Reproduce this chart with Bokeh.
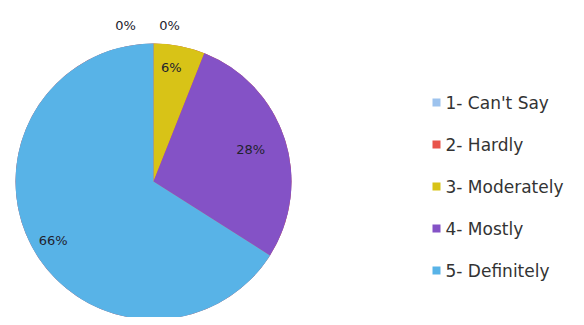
import math
from bokeh.plotting import figure
from bokeh.models import Range1d, ColumnDataSource
from bokeh.core.properties import value
from bokeh.embed import file_html
from bokeh.resources import INLINE

# ---- data ----
categories = ["1- Can't Say", "2- Hardly", "3- Moderately", "4- Mostly", "5- Definitely"]
percents = [0, 0, 6, 28, 66]
slice_colors = ["#9dc3ee", "#e8534a", "#d8c317", "#8452c6", "#58b3e7"]

# ---- style ----
W, H = 576, 317
cx, cy, R = 153, 325 - 181, 138          # pie centre/radius in page pixels (y flipped)
label_r = [1.13, 1.13, 0.84, 0.74, 0.83]
label_dx = [-28, 16, -4, 0, 0]
label_dy = [0, 0, 0, 0, -4]

total = float(sum(percents))
starts, ends, lx, ly, texts = [], [], [], [], []
acc = 0.0
for i, v in enumerate(percents):
    a0 = math.pi / 2 - 2 * math.pi * acc / total
    acc += v
    a1 = math.pi / 2 - 2 * math.pi * acc / total
    starts.append(a0)
    ends.append(a1)
    mid = (a0 + a1) / 2
    lx.append(cx + label_r[i] * R * math.cos(mid) + label_dx[i])
    ly.append(cy + label_r[i] * R * math.sin(mid) + label_dy[i])
    texts.append(f"{v}%")

src = ColumnDataSource(dict(cat=categories, start=starts, end=ends,
                            color=slice_colors, lx=lx, ly=ly, txt=texts))

p = figure(width=W, height=H, output_backend="svg", toolbar_location=None,
           x_range=Range1d(0, W), y_range=Range1d(325 - H, 325),
           min_border=0, outline_line_color=None)
p.axis.visible = False
p.grid.visible = False
p.background_fill_color = "white"

p.wedge(x=cx, y=cy, radius=R, start_angle="start", end_angle="end",
        direction="clock", fill_color="color", line_color=None, source=src)

p.text(x="lx", y="ly", text="txt", source=src, text_align="center",
       text_baseline="middle", text_font=value("DejaVu Sans"),
       text_font_size="13px", text_color="#22222e")

# legend (manual)
leg_x, leg_y0, leg_step = 436, 325 - 102, 42
leg_ys = [leg_y0 - leg_step * i for i in range(len(categories))]
leg_src = ColumnDataSource(dict(x=[leg_x] * len(categories), y=leg_ys,
                                tx=[leg_x + 9] * len(categories),
                                cat=categories, color=slice_colors))
p.scatter(x="x", y="y", marker="square", size=8, fill_color="color",
          line_color=None, source=leg_src)
p.text(x="tx", y="y", text="cat", source=leg_src, text_align="left",
       text_baseline="middle", text_font=value("DejaVu Sans"),
       text_font_size="17px", text_color="#333333")

open("out.html", "w").write(file_html(p, INLINE))
